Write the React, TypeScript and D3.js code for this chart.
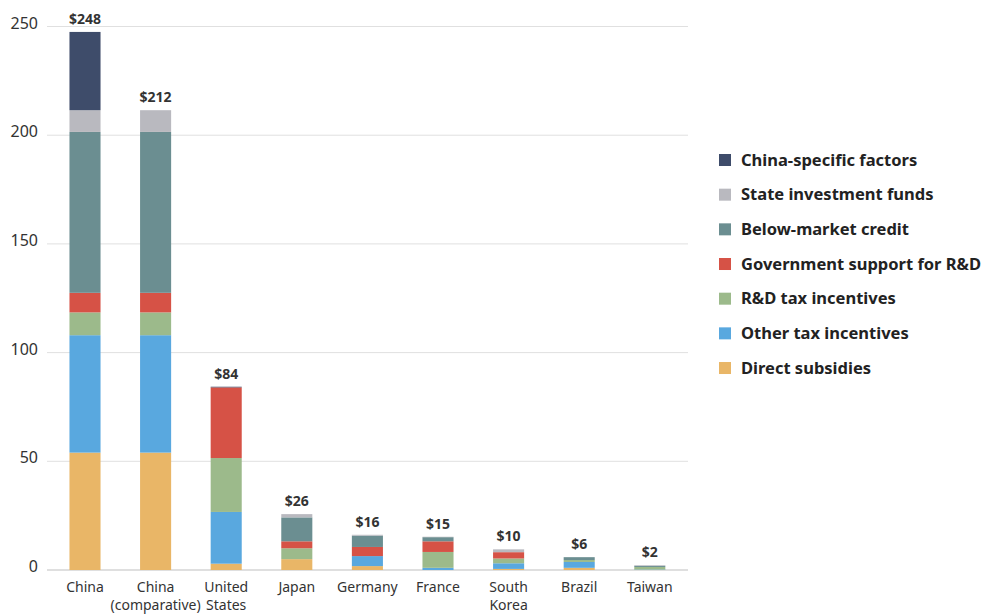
import React from "react";
import * as d3 from "d3";

const categories = ["China", "China (comparative)", "United States", "Japan", "Germany", "France", "South Korea", "Brazil", "Taiwan"];
const categoryLines = [["China"], ["China", "(comparative)"], ["United", "States"], ["Japan"], ["Germany"], ["France"], ["South", "Korea"], ["Brazil"], ["Taiwan"]];
const totalLabels = ["$248", "$212", "$84", "$26", "$16", "$15", "$10", "$6", "$2"];

const directSubsidies = [54, 54, 2.9, 5, 1.8, 0, 0.5, 1, 0];
const otherTaxIncentives = [54, 54, 23.8, 0, 4.6, 1, 2.6, 2.7, 0.2];
const rdTaxIncentives = [10.5, 10.5, 24.8, 5, 0, 7.3, 2.2, 0.9, 1.2];
const govSupportRD = [9, 9, 32.5, 3.2, 4.2, 4.9, 2.9, 0, 0];
const belowMarketCredit = [74, 74, 0, 11, 5.2, 1.9, 0, 1.3, 0.5];
const stateInvestmentFunds = [10, 10, 0, 1.5, 0.4, 0.2, 1.3, 0, 0.3];
const chinaSpecificFactors = [36, 0, 0.3, 0, 0, 0, 0, 0, 0];

const seriesNames = ["Direct subsidies", "Other tax incentives", "R&D tax incentives", "Government support for R&D", "Below-market credit", "State investment funds", "China-specific factors"];
const seriesValues = [directSubsidies, otherTaxIncentives, rdTaxIncentives, govSupportRD, belowMarketCredit, stateInvestmentFunds, chinaSpecificFactors];
const seriesColors = ["#e9b667", "#59a8df", "#9cba8b", "#d65246", "#6b8e91", "#b9b9bf", "#3e4c6a"];
const yTicks = [0, 50, 100, 150, 200, 250];

const W = 983, H = 614;
const FONT = "'Noto Sans', sans-serif";

export default function App() {
  const x = d3.scaleBand<string>().domain(categories).range([49.7, 685.1]).paddingInner(0.56).paddingOuter(0.28);
  const y = d3.scaleLinear().domain([0, 250]).range([570, 26.5]);

  const rows = categories.map((c, i) => {
    const r: any = { cat: c };
    seriesNames.forEach((s, j) => (r[s] = seriesValues[j][i]));
    return r;
  });
  const stacked = d3.stack<any>().keys(seriesNames)(rows);
  const totals = categories.map((_, i) => d3.sum(seriesValues, (s) => s[i]));

  const legendOrder = [...seriesNames].reverse();

  return (
    <div style={{ position: "absolute", left: 0, top: 0 }}>
      <svg width={W} height={H} style={{ display: "block", fontFamily: FONT }}>
        <rect width={W} height={H} fill="#fff" />
        {yTicks.map((t) => (
          <g key={t}>
            <line x1={47} x2={688} y1={y(t)} y2={y(t)} stroke={t === 0 ? "#d4d4d4" : "#e0e0e0"} strokeWidth={t === 0 ? 1.5 : 1} />
            <text x={38} y={y(t) - 3} dy="0.32em" textAnchor="end" fontSize={16} fill="#333">{t}</text>
          </g>
        ))}
        {stacked.map((layer, j) => (
          <g key={layer.key} fill={seriesColors[j]}>
            {layer.map((d, i) => {
              const h = y(d[0]) - y(d[1]);
              if (h <= 0) return null;
              return <rect key={i} x={x(categories[i])} width={x.bandwidth()} y={y(d[1])} height={h} />;
            })}
          </g>
        ))}
        {categories.map((c, i) => (
          <text key={c} x={(x(c) as number) + x.bandwidth() / 2} y={y(totals[i]) - 8} textAnchor="middle" fontSize={14} fontWeight={700} fill="#333">
            {totalLabels[i]}
          </text>
        ))}
        {categories.map((c, i) => (
          <text key={c + "l"} x={(x(c) as number) + x.bandwidth() / 2} y={592} textAnchor="middle" fontSize={14} fill="#333">
            {categoryLines[i].map((ln, k) => (
              <tspan key={k} x={(x(c) as number) + x.bandwidth() / 2} dy={k === 0 ? 0 : 18}>{ln}</tspan>
            ))}
          </text>
        ))}
        {legendOrder.map((s, k) => {
          const j = seriesNames.indexOf(s);
          const cy = 160 + k * 34.67;
          return (
            <g key={s}>
              <rect x={719} y={cy - 6} width={12} height={12} fill={seriesColors[j]} />
              <text x={741} y={cy} dy="0.35em" fontSize={16.5} fontWeight={700} fill="#222">{s}</text>
            </g>
          );
        })}
      </svg>
    </div>
  );
}
